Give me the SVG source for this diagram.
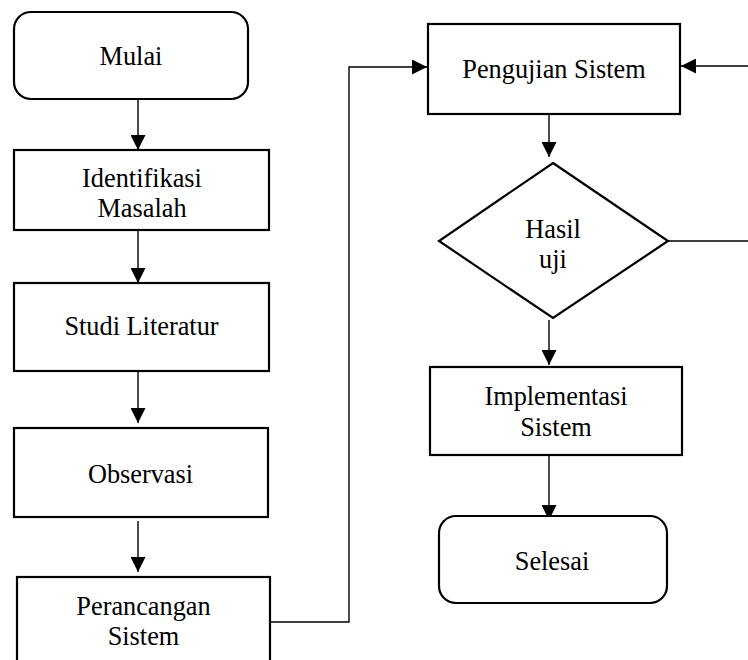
<svg xmlns="http://www.w3.org/2000/svg" width="748" height="660" viewBox="0 0 748 660">
<defs>
<marker id="ah" markerWidth="15" markerHeight="15" viewBox="0 0 15 15" refX="15" refY="7.5" orient="auto" markerUnits="userSpaceOnUse">
<path d="M0,0 L15,7.5 L0,15 Z" fill="#000"/>
</marker>
<style>
.box{fill:#fff;stroke:#000;stroke-width:2.2}
.t{font-family:"Liberation Serif","Times New Roman",serif;font-size:26.3px;fill:#000;text-anchor:middle}
.c{fill:none;stroke:#000;stroke-width:1.4}
</style>
</defs>
<rect width="748" height="660" fill="#fff"/>
<g id="connectors">
<line class="c" x1="138" y1="99" x2="138" y2="150" marker-end="url(#ah)"/>
<line class="c" x1="138" y1="230" x2="138" y2="283" marker-end="url(#ah)"/>
<line class="c" x1="138" y1="371" x2="138" y2="423" marker-end="url(#ah)"/>
<line class="c" x1="138" y1="521" x2="138" y2="572" marker-end="url(#ah)"/>
<polyline class="c" points="270,622 349,622 349,67 427,67" marker-end="url(#ah)"/>
<line class="c" x1="748" y1="66" x2="681" y2="66" marker-end="url(#ah)"/>
<line class="c" x1="549" y1="114" x2="549" y2="157" marker-end="url(#ah)"/>
<line class="c" x1="668" y1="241" x2="748" y2="241"/>
<line class="c" x1="549" y1="320" x2="549" y2="365" marker-end="url(#ah)"/>
<line class="c" x1="549" y1="455" x2="549" y2="520" marker-end="url(#ah)"/>
</g>
<g id="mulai">
<rect class="box" x="14" y="12" width="234" height="87" rx="17"/>
<text class="t" x="131" y="65">Mulai</text>
</g>
<g id="identifikasi">
<rect class="box" x="14" y="150" width="255" height="80"/>
<text class="t" x="142" y="187">Identifikasi</text>
<text class="t" x="142" y="217">Masalah</text>
</g>
<g id="studi">
<rect class="box" x="14" y="283" width="255" height="88"/>
<text class="t" x="141.5" y="335">Studi Literatur</text>
</g>
<g id="observasi">
<rect class="box" x="14" y="428" width="254" height="89"/>
<text class="t" x="140.5" y="483">Observasi</text>
</g>
<g id="perancangan">
<rect class="box" x="17" y="577" width="253" height="100"/>
<text class="t" x="143.5" y="615">Perancangan</text>
<text class="t" x="143.5" y="645">Sistem</text>
</g>
<g id="pengujian">
<rect class="box" x="428" y="24" width="252" height="90"/>
<text class="t" x="554" y="78">Pengujian Sistem</text>
</g>
<g id="hasil">
<polygon class="box" points="553,163 668,241 553,318 439,241"/>
<text class="t" x="553" y="238">Hasil</text>
<text class="t" x="553" y="268">uji</text>
</g>
<g id="implementasi">
<rect class="box" x="430" y="367" width="252" height="88"/>
<text class="t" x="556" y="405">Implementasi</text>
<text class="t" x="556" y="436">Sistem</text>
</g>
<g id="selesai">
<rect class="box" x="439" y="516" width="228" height="87" rx="17"/>
<text class="t" x="552" y="570">Selesai</text>
</g>
</svg>
